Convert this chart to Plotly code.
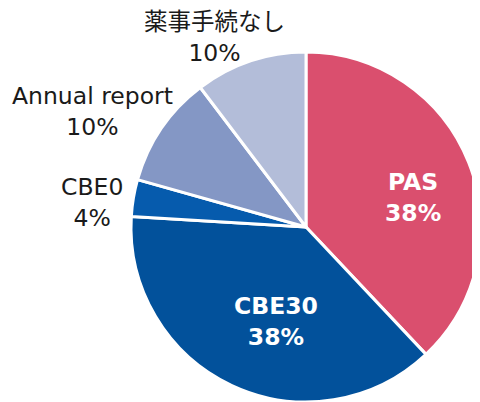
import plotly.graph_objects as go

categories = ["PAS", "CBE30", "CBE0", "Annual report", "薬事手続なし"]
values = [37.9, 37.9, 3.4, 10.3, 10.3]
pct_labels = ["38%", "38%", "4%", "10%", "10%"]
colors = ["#DA4F6E", "#02519B", "#065BAD", "#8497C5", "#B3BDD9"]

FONT = "DejaVu Sans, Noto Sans CJK JP, sans-serif"
OFF = 8  # page body margin

fig = go.Figure(go.Pie(
    labels=categories,
    values=values,
    textinfo="none",
    marker=dict(colors=colors, line=dict(color="white", width=3)),
    sort=False,
    direction="clockwise",
    rotation=0,
    showlegend=False,
    hoverinfo="skip",
    domain=dict(x=[(131 - OFF) / 480, (481 - OFF) / 480],
                y=[1 - (402 - OFF) / 402, 1 - (52 - OFF) / 402]),
))

label_pos = {0: (413, 198), 1: (276, 321), 2: (92, 203), 3: (92, 111), 4: (214, 38)}
for i, (px, py) in label_pos.items():
    inside = i < 2
    txt = f"{categories[i]}<br>{pct_labels[i]}"
    fig.add_annotation(
        x=(px - OFF) / 480, y=1 - (py - OFF) / 402, xref="paper", yref="paper",
        text=f"<b>{txt}</b>" if inside else txt,
        showarrow=False, xanchor="center", yanchor="middle",
        font=dict(size=23.5, color="white" if inside else "#1a1a1a", family=FONT),
    )

fig.update_layout(
    width=480, height=402,
    margin=dict(l=0, r=0, t=0, b=0),
    paper_bgcolor="white", plot_bgcolor="white",
    font=dict(family=FONT),
)

fig.write_html("out.html")
